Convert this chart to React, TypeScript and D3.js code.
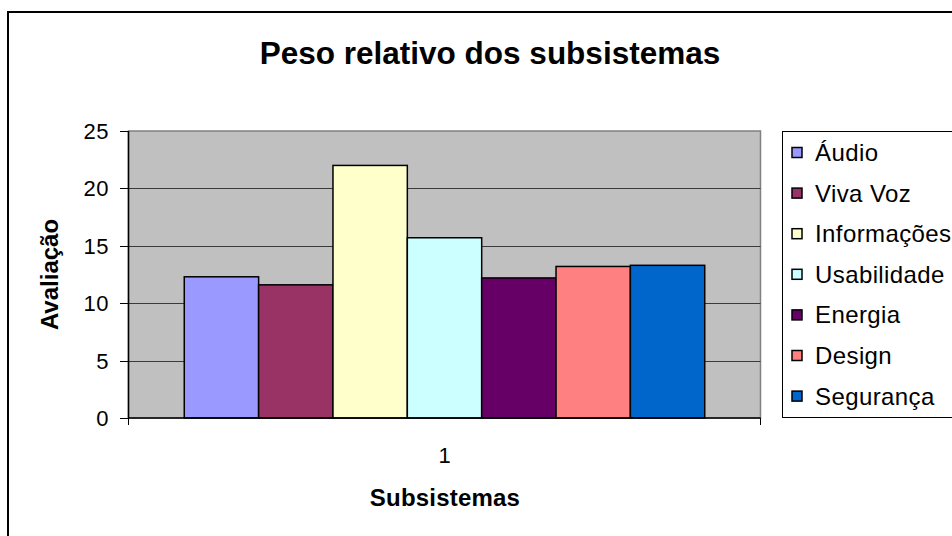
import React from "react";
import * as d3 from "d3";

const categories = ["1"];
const seriesNames = ["Áudio", "Viva Voz", "Informações", "Usabilidade", "Energia", "Design", "Segurança"];
const seriesValues = [12.3, 11.6, 22.0, 15.7, 12.2, 13.2, 13.3];
const seriesColors = ["#9999FF", "#993366", "#FFFFCC", "#CCFFFF", "#660066", "#FF8080", "#0066CC"];
const yTicks = [0, 5, 10, 15, 20, 25];

const W = 952;
const H = 536;
const FONT = "Liberation Sans, Arial, Helvetica, sans-serif";

export default function App() {
  const plotL = 128.5, plotR = 760.5, plotT = 131, plotB = 418;
  const y = d3.scaleLinear().domain([0, 25]).range([plotB, plotT]);
  const xCat = d3.scaleBand().domain(categories).range([plotL, plotR]).padding(0);
  const xSer = d3
    .scaleBand<string>()
    .domain(seriesNames)
    .range([xCat("1")!, xCat("1")! + xCat.bandwidth()])
    .paddingInner(0)
    .paddingOuter(0.75);

  const legX = 782.5, legY = 131.5, legH = 286;
  const legRow = 40.6;

  return (
    <svg
      width={W}
      height={H}
      style={{ position: "absolute", left: 0, top: 0, background: "#fff" }}
      fontFamily={FONT}
    >
      {/* outer chart border */}
      <rect x={8} y={12} width={1000} height={600} fill="#fff" stroke="#000" strokeWidth={2} />

      {/* title */}
      <text x={490} y={64} textAnchor="middle" fontSize={31.5} fontWeight="bold">
        Peso relativo dos subsistemas
      </text>

      {/* plot area */}
      <rect x={plotL} y={plotT} width={plotR - plotL} height={plotB - plotT} fill="#C0C0C0" stroke="#808080" strokeWidth={1.5} />

      {/* gridlines */}
      {yTicks.filter((t) => t > 0 && t < 25).map((t) => (
        <line key={t} x1={plotL} x2={plotR} y1={Math.round(y(t)) + 0.5} y2={Math.round(y(t)) + 0.5} stroke="#3a3a3a" strokeWidth={1} />
      ))}

      {/* bars */}
      {seriesNames.map((s, i) => (
        <rect
          key={s}
          x={xSer(s)!}
          y={y(seriesValues[i])}
          width={xSer.bandwidth()}
          height={y(0) - y(seriesValues[i])}
          fill={seriesColors[i]}
          stroke="#000"
          strokeWidth={1.5}
        />
      ))}

      {/* y axis */}
      <line x1={plotL} x2={plotL} y1={plotT} y2={plotB} stroke="#000" strokeWidth={1.5} />
      {yTicks.map((t) => (
        <g key={t}>
          <line x1={120} x2={plotL} y1={Math.round(y(t)) + 0.5} y2={Math.round(y(t)) + 0.5} stroke="#000" strokeWidth={1} />
          <text x={109} y={y(t) + 8} textAnchor="end" fontSize={22} letterSpacing={0.5}>
            {t}
          </text>
        </g>
      ))}

      {/* x axis */}
      <line x1={plotL} x2={plotR} y1={plotB} y2={plotB} stroke="#000" strokeWidth={1.5} />
      {[plotL, plotR].map((xx, i) => (
        <line key={i} x1={xx} x2={xx} y1={plotB} y2={425} stroke="#000" strokeWidth={1} />
      ))}
      {categories.map((c) => (
        <text key={c} x={xCat(c)! + xCat.bandwidth() / 2} y={463} textAnchor="middle" fontSize={22}>
          {c}
        </text>
      ))}

      {/* axis titles */}
      <text x={445} y={506} textAnchor="middle" fontSize={24} fontWeight="bold" letterSpacing={0.2}>
        Subsistemas
      </text>
      <text
        transform={`translate(58, ${(plotT + plotB) / 2}) rotate(-90)`}
        textAnchor="middle"
        fontSize={24}
        fontWeight="bold"
      >
        Avaliação
      </text>

      {/* legend */}
      <rect x={legX} y={legY} width={300} height={legH} fill="#fff" stroke="#000" strokeWidth={1} />
      {seriesNames.map((s, i) => {
        const cy = 152.5 + i * legRow;
        return (
          <g key={s}>
            <rect x={792} y={cy - 5} width={10} height={10} fill={seriesColors[i]} stroke="#000" strokeWidth={1.5} />
            <text x={815} y={cy + 8.5} fontSize={24} letterSpacing={0.4}>
              {s}
            </text>
          </g>
        );
      })}
    </svg>
  );
}
